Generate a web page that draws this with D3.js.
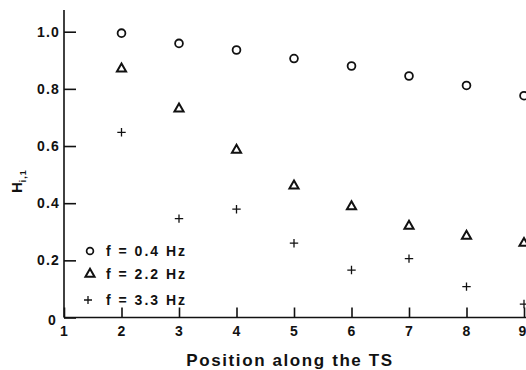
<!DOCTYPE html>
<html><head><meta charset="utf-8">
<script src="https://cdn.jsdelivr.net/npm/d3@7"></script>
<style>body{margin:0;background:#fff}svg{display:block}text{font-family:"Liberation Sans",Arial,sans-serif;font-weight:bold;fill:#111}</style>
</head><body>
<script>
const positions = [2,3,4,5,6,7,8,9];
const h04 = [0.995,0.959,0.936,0.906,0.880,0.845,0.812,0.776];
const h22 = [0.870,0.730,0.586,0.461,0.388,0.320,0.285,0.260];
const h33 = [0.648,0.346,0.379,0.260,0.166,0.206,0.108,0.047];
const xTicks = [1,2,3,4,5,6,7,8,9];
const yTicks = [0,0.2,0.4,0.6,0.8,1.0];
const legendLabels = ["f = 0.4 Hz","f = 2.2 Hz","f = 3.3 Hz"];

const W=526,H=370;
const svg=d3.select("body").append("svg").attr("width",W).attr("height",H);
const x=d3.scaleLinear().domain([1,9]).range([64,524]);
const y=d3.scaleLinear().domain([0,1]).range([317.5,31.7]);
const ink="#111";

// axes
const xAxis=svg.append("g").attr("transform","translate(0,317.5)")
  .call(d3.axisBottom(x).tickValues(xTicks).tickSizeInner(-10).tickSizeOuter(0).tickPadding(9).tickFormat(d3.format("d")));
const yAxis=svg.append("g").attr("transform","translate(64,0)")
  .call(d3.axisLeft(y).tickValues(yTicks).tickSizeInner(-12).tickSizeOuter(0).tickPadding(4)
    .tickFormat(d=>d===0?"0":d3.format(".1f")(d)));
[xAxis,yAxis].forEach(g=>{g.selectAll("path,line").attr("stroke",ink).attr("stroke-width",1.6);
  g.selectAll("text").style("font-size","14px").style("letter-spacing","1.2px").attr("fill",ink);});
yAxis.select(".domain").remove();
svg.append("line").attr("x1",64).attr("x2",64).attr("y1",10).attr("y2",317.5).attr("stroke",ink).attr("stroke-width",1.6);
xAxis.select(".domain").attr("d",`M${x(1)},0H${W}`);
// adjust zero labels
yAxis.selectAll(".tick").filter(d=>d===0).select("text").attr("dx",-3).attr("dy","0.5em");
xAxis.selectAll(".tick").filter(d=>d===9).select("text").attr("text-anchor","end").attr("dx",3);

const g=svg.append("g");
const tri=d3.symbol().type(d3.symbolTriangle).size(36);
const plus=(cx,cy,s)=>`M${cx-s},${cy}H${cx+s}M${cx},${cy-s}V${cy+s}`;

g.selectAll(".c").data(positions).enter().append("circle")
  .attr("cx",d=>x(d)).attr("cy",(d,i)=>y(h04[i])).attr("r",3.9)
  .attr("fill","none").attr("stroke",ink).attr("stroke-width",1.8);
g.selectAll(".t").data(positions).enter().append("path")
  .attr("d",tri).attr("transform",(d,i)=>`translate(${x(d)},${y(h22[i])})`)
  .attr("fill","none").attr("stroke",ink).attr("stroke-width",2).attr("stroke-linejoin","miter");
g.selectAll(".p").data(positions).enter().append("path")
  .attr("d",(d,i)=>plus(x(d),y(h33[i]),4.2))
  .attr("stroke",ink).attr("stroke-width",1.3);

// legend
const ly=[251,274,300];
svg.append("circle").attr("cx",90).attr("cy",ly[0]).attr("r",3.4).attr("fill","none").attr("stroke",ink).attr("stroke-width",1.7);
svg.append("path").attr("d",tri).attr("transform",`translate(90,${ly[1]})`).attr("fill","none").attr("stroke",ink).attr("stroke-width",2);
svg.append("path").attr("d",plus(88,ly[2],4)).attr("stroke",ink).attr("stroke-width",1.3);
legendLabels.forEach((t,i)=>svg.append("text").attr("x",106).attr("y",ly[i]+5).style("font-size","14px").style("letter-spacing","2px").text(t));

// axis titles
svg.append("text").attr("x",290).attr("y",366).attr("text-anchor","middle").style("font-size","17px").style("letter-spacing","1.6px").text("Position along the TS");
const yl=svg.append("text").attr("transform","translate(22,193) rotate(-90)").style("font-size","15px");
yl.append("tspan").text("H");
yl.append("tspan").attr("dy",4).style("font-size","9px").style("letter-spacing","1px").text("i,1");
</script>
</body></html>
